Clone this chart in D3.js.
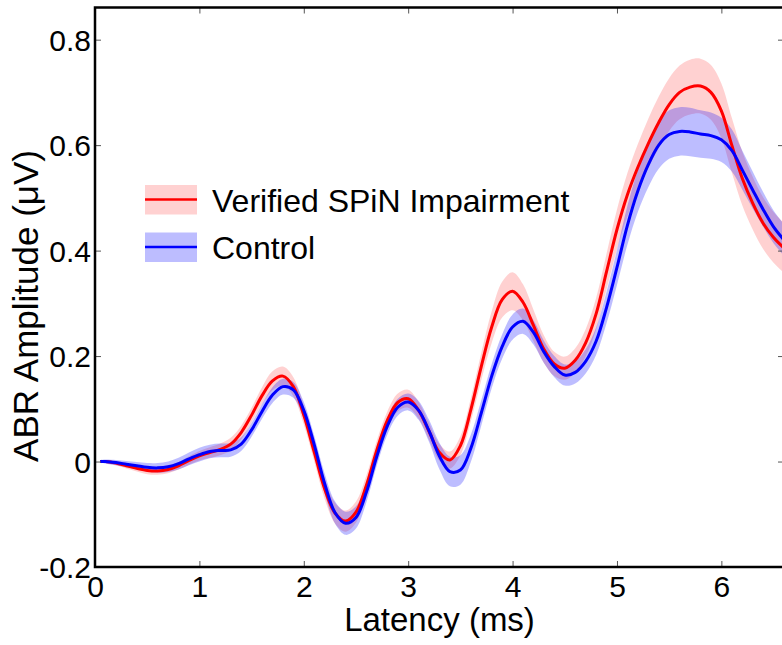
<!DOCTYPE html>
<html>
<head>
<meta charset="utf-8">
<script src="https://cdn.jsdelivr.net/npm/d3@7"></script>
<style>
  body { margin: 0; background: #fff; }
  svg { display: block; font-family: "Liberation Sans", Arial, sans-serif; }
</style>
</head>
<body>
<svg id="chart" width="782" height="645"></svg>
<script>
// latency samples (ms)
var times = [0.05, 0.1, 0.2, 0.3, 0.4, 0.5, 0.6, 0.7, 0.8, 0.9,
  1.0, 1.1, 1.2, 1.3, 1.4, 1.5, 1.6, 1.7, 1.8, 1.9,
  2.0, 2.1, 2.2, 2.3, 2.4, 2.5, 2.6, 2.7, 2.8, 2.9,
  3.0, 3.1, 3.2, 3.3, 3.4, 3.5, 3.6, 3.7, 3.8, 3.9,
  4.0, 4.1, 4.2, 4.3, 4.4, 4.5, 4.6, 4.7, 4.8, 4.9,
  5.0, 5.1, 5.2, 5.3, 5.4, 5.5, 5.6, 5.7, 5.8, 5.9,
  6.0, 6.1, 6.2, 6.3, 6.4, 6.5, 6.6]

// Verified SPiN Impairment: mean and half width of shaded band
var spinMean = [0, 0, -0.003, -0.008, -0.013, -0.017, -0.018, -0.015, -0.008, 0.002,
  0.011, 0.017, 0.023, 0.033, 0.055, 0.088, 0.125, 0.153, 0.162, 0.142,
  0.088, 0.018, -0.052, -0.098, -0.113, -0.096, -0.045, 0.022, 0.078, 0.112,
  0.119, 0.097, 0.057, 0.017, 0.003, 0.030, 0.098, 0.180, 0.255, 0.307,
  0.323, 0.302, 0.258, 0.213, 0.185, 0.177, 0.192, 0.225, 0.280, 0.360,
  0.440, 0.506, 0.558, 0.603, 0.643, 0.677, 0.700, 0.710, 0.712, 0.700,
  0.665, 0.600, 0.537, 0.490, 0.452, 0.425, 0.405]
var spinErr = [0.002, 0.003, 0.004, 0.005, 0.006, 0.007, 0.007, 0.007, 0.007, 0.008,
  0.009, 0.010, 0.011, 0.012, 0.013, 0.014, 0.016, 0.018, 0.018, 0.018,
  0.018, 0.018, 0.019, 0.020, 0.020, 0.020, 0.019, 0.018, 0.017, 0.017,
  0.017, 0.016, 0.016, 0.016, 0.016, 0.018, 0.022, 0.026, 0.030, 0.034,
  0.036, 0.034, 0.030, 0.026, 0.023, 0.022, 0.023, 0.026, 0.030, 0.034,
  0.038, 0.041, 0.044, 0.047, 0.049, 0.050, 0.051, 0.052, 0.052, 0.052,
  0.052, 0.052, 0.051, 0.050, 0.049, 0.048, 0.047]

// Control: mean and half width of shaded band
var controlMean = [0, 0, -0.002, -0.005, -0.008, -0.011, -0.012, -0.010, -0.004, 0.005,
  0.013, 0.019, 0.021, 0.022, 0.033, 0.060, 0.095, 0.126, 0.142, 0.136,
  0.097, 0.032, -0.042, -0.097, -0.117, -0.106, -0.058, 0.010, 0.067, 0.103,
  0.113, 0.097, 0.058, 0.010, -0.019, -0.016, 0.025, 0.092, 0.162, 0.218,
  0.255, 0.266, 0.245, 0.208, 0.180, 0.164, 0.169, 0.190, 0.228, 0.292,
  0.368, 0.448, 0.513, 0.563, 0.600, 0.620, 0.626, 0.625, 0.621, 0.618,
  0.610, 0.590, 0.553, 0.515, 0.478, 0.445, 0.420]
var controlErr = [0.003, 0.004, 0.005, 0.006, 0.007, 0.008, 0.009, 0.010, 0.011, 0.012,
  0.013, 0.013, 0.013, 0.013, 0.013, 0.013, 0.014, 0.015, 0.015, 0.015,
  0.016, 0.017, 0.019, 0.021, 0.022, 0.021, 0.019, 0.017, 0.016, 0.016,
  0.016, 0.018, 0.021, 0.025, 0.028, 0.028, 0.026, 0.024, 0.023, 0.023,
  0.024, 0.024, 0.023, 0.021, 0.020, 0.020, 0.021, 0.023, 0.026, 0.030,
  0.033, 0.037, 0.040, 0.043, 0.045, 0.046, 0.046, 0.046, 0.045, 0.044,
  0.042, 0.040, 0.037, 0.035, 0.033, 0.031, 0.030]

var xTicks = [0, 1, 2, 3, 4, 5, 6]
var yTicks = [-0.2, 0, 0.2, 0.4, 0.6, 0.8]
var yTickLabels = ['-0.2', '0', '0.2', '0.4', '0.6', '0.8']

var groups = [
  { name: 'Verified SPiN Impairment', mean: spinMean, err: spinErr, color: '#ff0000', bandOpacity: 0.18 },
  { name: 'Control', mean: controlMean, err: controlErr, color: '#0000ff', bandOpacity: 0.26 }
]

// plot box (note: "top" is reserved on window, so use a margin object)
var box = { left: 95, right: 784, top: 7.5, bottom: 567 }

var x = d3.scaleLinear().domain([0, 6.6]).range([box.left, box.right])
var y = d3.scaleLinear().domain([-0.2, 0.861]).range([box.bottom, box.top])

var svg = d3.select('#chart')

svg.append('clipPath').attr('id', 'plot-clip')
  .append('rect')
  .attr('x', box.left).attr('y', box.top)
  .attr('width', box.right - box.left).attr('height', box.bottom - box.top)

var plot = svg.append('g').attr('clip-path', 'url(#plot-clip)')

function rows (g) {
  return times.map(function (t, i) { return { t: t, m: g.mean[i], e: g.err[i] } })
}

var area = d3.area()
  .curve(d3.curveCatmullRom.alpha(0.5))
  .x(d => x(d.t))
  .y0(d => y(d.m - d.e))
  .y1(d => y(d.m + d.e))

var line = d3.line()
  .curve(d3.curveCatmullRom.alpha(0.5))
  .x(d => x(d.t))
  .y(d => y(d.m))

// bands first, then the mean lines
groups.forEach(function (g) {
  plot.append('path')
    .datum(rows(g))
    .attr('d', area)
    .attr('fill', g.color)
    .attr('fill-opacity', g.bandOpacity)
})
groups.forEach(function (g) {
  plot.append('path')
    .datum(rows(g))
    .attr('d', line)
    .attr('fill', 'none')
    .attr('stroke', g.color)
    .attr('stroke-width', 3)
})

// axes, ticks point inward on all four sides
function styleAxis (sel) {
  sel.select('.domain').remove()
  sel.selectAll('.tick line').attr('stroke', '#555').attr('stroke-width', 1)
  sel.selectAll('text').attr('fill', '#000').style('font-size', '30px')
}

svg.append('g')
  .attr('transform', 'translate(0,' + box.bottom + ')')
  .call(d3.axisBottom(x).tickValues(xTicks).tickFormat(d3.format('d')).tickSizeInner(-6).tickSizeOuter(0))
  .call(styleAxis)
  .selectAll('text').attr('y', 30).attr('dy', 0)

svg.append('g')
  .attr('transform', 'translate(0,' + box.top + ')')
  .call(d3.axisTop(x).tickValues(xTicks).tickSizeInner(-6).tickSizeOuter(0).tickFormat(''))
  .call(styleAxis)

svg.append('g')
  .attr('transform', 'translate(' + box.left + ',0)')
  .call(d3.axisLeft(y).tickValues(yTicks).tickFormat((d, i) => yTickLabels[i]).tickSizeInner(-6).tickSizeOuter(0))
  .call(styleAxis)
  .selectAll('text').attr('x', -4).attr('dy', '0.36em')

svg.append('g')
  .attr('transform', 'translate(' + box.right + ',0)')
  .call(d3.axisRight(y).tickValues(yTicks).tickSizeInner(-6).tickSizeOuter(0).tickFormat(''))
  .call(styleAxis)

// frame
svg.append('rect')
  .attr('x', box.left).attr('y', box.top)
  .attr('width', box.right - box.left).attr('height', box.bottom - box.top)
  .attr('fill', 'none')
  .attr('stroke', '#000')
  .attr('stroke-width', 2.5)

// axis titles
svg.append('text')
  .attr('x', (box.left + box.right) / 2)
  .attr('y', 631)
  .attr('text-anchor', 'middle')
  .style('font-size', '33px')
  .text('Latency (ms)')

svg.append('text')
  .attr('transform', 'translate(38,306) rotate(-90)')
  .attr('text-anchor', 'middle')
  .style('font-size', '35px')
  .text('ABR Amplitude (μV)')

// legend
var legend = svg.append('g')
groups.forEach(function (g, i) {
  var cy = 199.5 + i * 47.5
  legend.append('rect')
    .attr('x', 145).attr('y', cy - 14.5)
    .attr('width', 52).attr('height', 29.5)
    .attr('fill', g.color)
    .attr('fill-opacity', g.bandOpacity)
  legend.append('line')
    .attr('x1', 145).attr('x2', 197)
    .attr('y1', cy).attr('y2', cy)
    .attr('stroke', g.color)
    .attr('stroke-width', 2.5)
  legend.append('text')
    .attr('x', 212)
    .attr('y', cy + 12)
    .style('font-size', '32px')
    .text(g.name)
})
</script>
</body>
</html>
